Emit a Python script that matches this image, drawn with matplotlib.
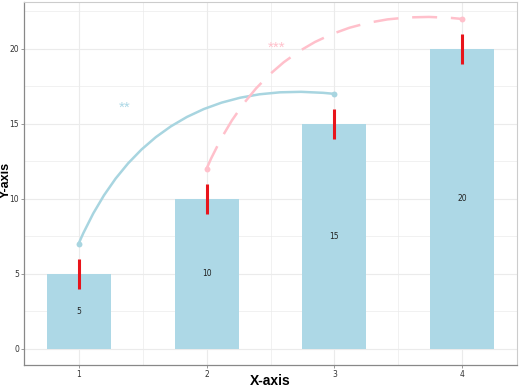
import matplotlib
matplotlib.use("Agg")
import matplotlib.pyplot as plt
from matplotlib.patches import FancyArrowPatch

categories = [1, 2, 3, 4]
values = [5, 10, 15, 20]
err_low = [4, 9, 14, 19]
err_high = [6, 11, 16, 21]
bar_labels = ["5", "10", "15", "20"]
bar_label_y = [2.5, 5, 7.5, 10]
blue_curve = [(1, 7), (3, 17)]
pink_curve = [(2, 12), (4, 22)]
stars = [("**", 1.36, 16.2, "#ADD8E6"), ("***", 2.55, 20.2, "#FFC0CB")]
yticks = [0, 5, 10, 15, 20]
xticks = [1, 2, 3, 4]

fig = plt.figure(figsize=(5.2, 3.89), dpi=100)
ax = fig.add_axes([24/520, 1-365/389, (517-24)/520, (365-2.5)/389])

ax.set_xlim(0.573, 4.427)
ax.set_ylim(-1.1, 23.1)

# grid
for x in [1, 1.5, 2, 2.5, 3, 3.5, 4]:
    ax.axvline(x, color="#EBEBEB", lw=0.5 if x % 1 else 0.8, zorder=0)
for y in [0, 2.5, 5, 7.5, 10, 12.5, 15, 17.5, 20, 22.5]:
    ax.axhline(y, color="#EBEBEB", lw=0.5 if y % 5 else 0.8, zorder=0)

ax.bar(categories, values, width=0.5, color="#ADD8E6", zorder=2)
ax.vlines(categories, err_low, err_high, color="#E8141B", lw=2.2, zorder=3)

for x, y, t in zip(categories, bar_label_y, bar_labels):
    ax.text(x, y, t, ha="center", va="center", fontsize=5.5, color="#222222", zorder=4)

def curve(pts, color, ls):
    p = FancyArrowPatch(pts[0], pts[1], connectionstyle="arc3,rad=-0.37",
                        arrowstyle="-", color=color, lw=1.8, linestyle=ls,
                        shrinkA=0, shrinkB=0, zorder=5, capstyle="butt")
    ax.add_patch(p)
    ax.scatter([pts[0][0], pts[1][0]], [pts[0][1], pts[1][1]], s=18,
               color=color, zorder=6, linewidths=0)

curve(blue_curve, "#A8D5E0", "-")
curve(pink_curve, "#FFC0CB", (0, (10, 5.5)))

for t, x, y, c in stars:
    ax.text(x, y - 0.15, t, ha="center", va="center", fontsize=11, color=c, zorder=6,
            family="Liberation Sans")

ax.set_xticks(xticks)
ax.set_yticks(yticks)
ax.tick_params(axis="both", labelsize=5.5, colors="#888888", length=2, width=0.6,
               labelcolor="#333333", pad=1.5)
for side in ["top", "right"]:
    ax.spines[side].set_color("#CCCCCC")
    ax.spines[side].set_linewidth(0.8)
for side in ["left", "bottom"]:
    ax.spines[side].set_color("#888888")
    ax.spines[side].set_linewidth(0.9)

fig.text(270/520, 1-381/389, "X-axis", ha="center", va="center", fontsize=10,
         fontweight="bold", family="Liberation Sans")
fig.text(6/520, 1-180/389, "Y-axis", ha="center", va="center", fontsize=9,
         fontweight="bold", rotation=90, family="Liberation Sans")

fig.savefig("out.png", dpi=100)
